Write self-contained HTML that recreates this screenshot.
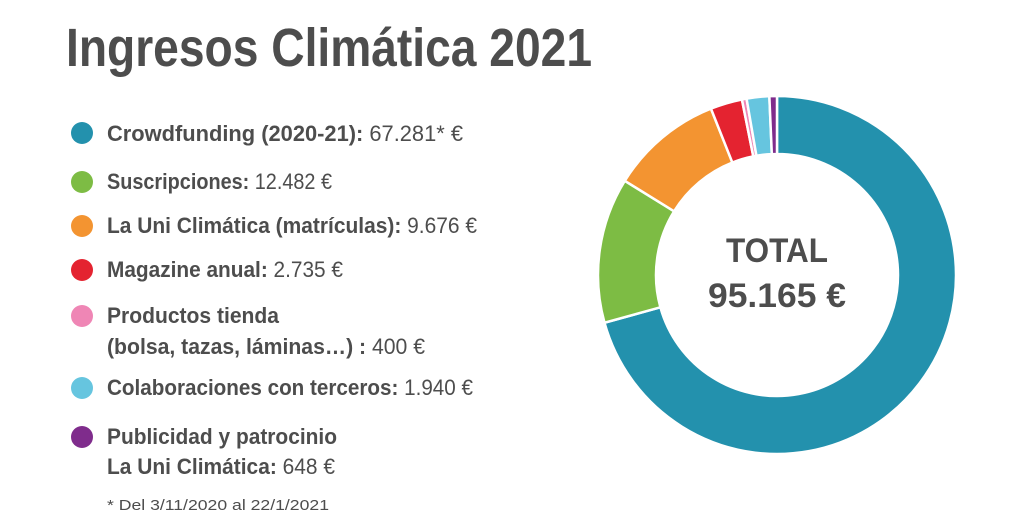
<!DOCTYPE html>
<html><head><meta charset="utf-8"><style>
body{margin:0;background:#fff}
svg{display:block}
text{font-family:"Liberation Sans Narrow","Liberation Sans",sans-serif;fill:#4d4d4d}
.b{font-weight:bold}
</style></head><body>
<svg width="1024" height="530" viewBox="0 0 1024 530" xmlns="http://www.w3.org/2000/svg">
<text x="66" y="66" class="b" font-size="54" textLength="526" lengthAdjust="spacingAndGlyphs">Ingresos Climática 2021</text>
<g font-size="22">
<circle cx="82" cy="133" r="11" fill="#2391ad"/>
<text x="107" y="141" textLength="356" lengthAdjust="spacingAndGlyphs"><tspan class="b">Crowdfunding (2020-21):</tspan> 67.281* €</text>
<circle cx="82" cy="182" r="11" fill="#7dbc44"/>
<text x="107" y="189" textLength="225" lengthAdjust="spacingAndGlyphs"><tspan class="b">Suscripciones:</tspan> 12.482 €</text>
<circle cx="82" cy="226" r="11" fill="#f39431"/>
<text x="107" y="233" textLength="370" lengthAdjust="spacingAndGlyphs"><tspan class="b">La Uni Climática (matrículas):</tspan> 9.676 €</text>
<circle cx="82" cy="270" r="11" fill="#e42330"/>
<text x="107" y="277" textLength="236" lengthAdjust="spacingAndGlyphs"><tspan class="b">Magazine anual:</tspan> 2.735 €</text>
<circle cx="82" cy="316" r="11" fill="#ef86b5"/>
<text x="107" y="323" class="b" textLength="172" lengthAdjust="spacingAndGlyphs">Productos tienda</text>
<text x="107" y="354" textLength="318" lengthAdjust="spacingAndGlyphs"><tspan class="b">(bolsa, tazas, láminas…) :</tspan> 400 €</text>
<circle cx="82" cy="388" r="11" fill="#66c5df"/>
<text x="107" y="395" textLength="366" lengthAdjust="spacingAndGlyphs"><tspan class="b">Colaboraciones con terceros:</tspan> 1.940  €</text>
<circle cx="82" cy="437" r="11" fill="#7f2c8c"/>
<text x="107" y="444" class="b" textLength="230" lengthAdjust="spacingAndGlyphs">Publicidad y patrocinio</text>
<text x="107" y="474" textLength="228" lengthAdjust="spacingAndGlyphs"><tspan class="b">La Uni Climática:</tspan> 648 €</text>
</g>
<text x="107" y="510" font-size="15" textLength="222" lengthAdjust="spacingAndGlyphs">* Del 3/11/2020 al 22/1/2021</text>
<g id="donut"></g>
<circle cx="777" cy="275" r="121" fill="#fff"/>
<text x="777" y="262" class="b" font-size="34" text-anchor="middle" textLength="102" lengthAdjust="spacingAndGlyphs">TOTAL</text>
<text x="777" y="307" class="b" font-size="34" text-anchor="middle" textLength="138" lengthAdjust="spacingAndGlyphs">95.165 €</text>
</svg>
<script>
(function(){
var vals=[67281,12482,9676,2735,400,1940,648],cols=["#2391ad","#7dbc44","#f39431","#e42330","#ef86b5","#66c5df","#7f2c8c"];
var tot=vals.reduce(function(a,b){return a+b},0),cx=777,cy=275,R=179,r=121,a=0,g=document.getElementById('donut'),s='';
function p(rad,ang){return [cx+rad*Math.sin(ang),cy-rad*Math.cos(ang)];}
vals.forEach(function(v,i){var b=a+v/tot*2*Math.PI,l=(b-a)>Math.PI?1:0;
var p1=p(R,a),p2=p(R,b),p3=p(r,b),p4=p(r,a);
s+='<path d="M'+p1+' A'+R+' '+R+' 0 '+l+' 1 '+p2+' L'+p3+' A'+r+' '+r+' 0 '+l+' 0 '+p4+'Z" fill="'+cols[i]+'" stroke="#fff" stroke-width="2.5"/>';a=b;});
g.innerHTML=s;})();
</script>
</body></html>
